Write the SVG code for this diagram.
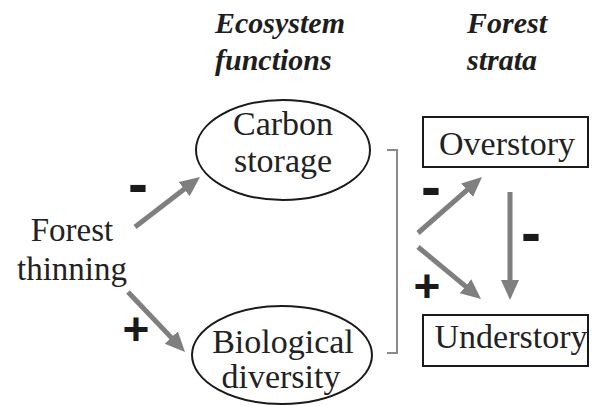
<svg xmlns="http://www.w3.org/2000/svg" width="597" height="406" viewBox="0 0 597 406">
<defs>
<marker id="ah" markerWidth="22" markerHeight="20" refX="6" refY="9" orient="auto" markerUnits="userSpaceOnUse">
<path d="M0,0 L20,9 L0,18 z" fill="#7f7f7f"/>
</marker>
</defs>
<rect width="597" height="406" fill="#fff"/>
<g id="headers" font-size="30" font-weight="bold" font-style="italic" fill="#1e1e1e">
<text font-family="Liberation Serif" x="215" y="33">Ecosystem</text>
<text font-family="Liberation Serif" x="215" y="70">functions</text>
<text font-family="Liberation Serif" x="467" y="33">Forest</text>
<text font-family="Liberation Serif" x="467" y="70">strata</text>
</g>
<g id="forest-thinning" font-size="33" fill="#222" text-anchor="middle">
<text font-family="Liberation Serif" x="72" y="241">Forest</text>
<text font-family="Liberation Serif" x="72" y="280">thinning</text>
</g>
<g id="carbon-storage" font-size="34" fill="#222" text-anchor="middle">
<ellipse cx="283" cy="150" rx="87" ry="50" fill="none" stroke="#1a1a1a" stroke-width="2"/>
<text font-family="Liberation Serif" x="283" y="135">Carbon</text>
<text font-family="Liberation Serif" x="283" y="172">storage</text>
</g>
<g id="biological-diversity" font-size="34" fill="#222" text-anchor="middle">
<ellipse cx="282" cy="355" rx="90" ry="49" fill="none" stroke="#1a1a1a" stroke-width="2"/>
<text font-family="Liberation Serif" x="283" y="353">Biological</text>
<text font-family="Liberation Serif" x="281" y="388">diversity</text>
</g>
<g id="overstory" font-size="34" fill="#222" text-anchor="middle">
<rect x="423" y="117" width="165" height="50" fill="none" stroke="#1a1a1a" stroke-width="2"/>
<text font-family="Liberation Serif" x="507" y="155">Overstory</text>
</g>
<g id="understory" font-size="34" fill="#222" text-anchor="middle">
<rect x="423" y="315" width="165" height="51" fill="none" stroke="#1a1a1a" stroke-width="2"/>
<text font-family="Liberation Serif" x="511" y="348">Understory</text>
</g>
<g id="connectors" fill="none">
<polyline points="387,150 397,150 397,353 387,353" stroke="#8a8a8a" stroke-width="2"/>
<g stroke="#7f7f7f" stroke-width="5" marker-end="url(#ah)">
<line x1="135" y1="227" x2="188.9" y2="185.5"/>
<line x1="128" y1="292" x2="175.4" y2="341.9"/>
<line x1="418" y1="233" x2="471.5" y2="186.2"/>
<line x1="418" y1="247" x2="470.2" y2="290.1"/>
<line x1="510" y1="192" x2="510" y2="286"/>
</g>
</g>
<g id="signs" font-weight="bold" fill="#1a1a1a" text-anchor="middle">
<text font-family="Liberation Sans" x="138" y="204" font-size="60">-</text>
<text font-family="Liberation Sans" x="431" y="207" font-size="60">-</text>
<text font-family="Liberation Sans" x="531" y="253" font-size="60">-</text>
<text font-family="Liberation Sans" x="136" y="345" font-size="46">+</text>
<text font-family="Liberation Sans" x="427" y="302" font-size="46">+</text>
</g>
</svg>
